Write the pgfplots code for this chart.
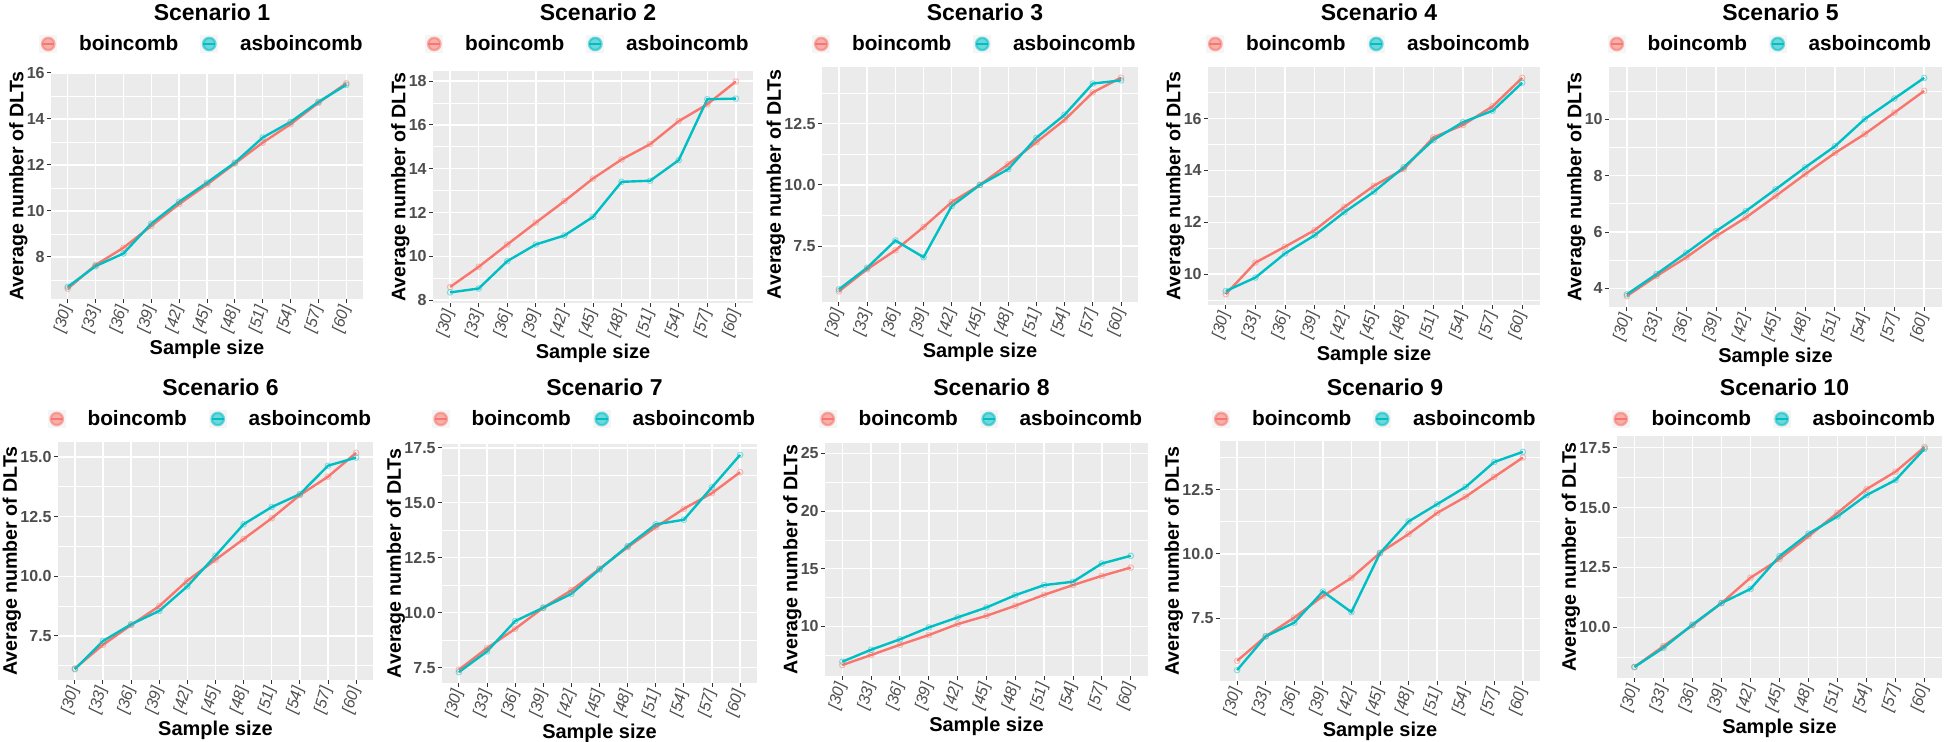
\documentclass[border=0pt]{standalone}
\usepackage{fontspec}
\setmainfont{Liberation Sans}
\usepackage{pgfplots}
\usepackage{pgfplotstable}
\pgfplotsset{compat=1.18}

\definecolor{redc}{HTML}{F8766D}
\definecolor{cyanc}{HTML}{00BFC4}
\definecolor{panelbg}{HTML}{EBEBEB}
\definecolor{tickgray}{HTML}{4D4D4D}
\definecolor{tickline}{HTML}{333333}

% b = boincomb, a = asboincomb, one pair of columns per scenario
\pgfplotstableread{
x b1 a1 b2 a2 b3 a3 b4 a4 b5 a5 b6 a6 b7 a7 b8 a8 b9 a9 b10 a10
1 6.62 6.70 8.60 8.35 5.66 5.74 9.23 9.35 3.73 3.79 6.14 6.11 7.41 7.30 6.65 6.94 5.85 5.49 8.34 8.34
2 7.65 7.60 9.52 8.53 6.56 6.62 10.45 9.87 4.44 4.51 7.13 7.29 8.39 8.24 7.52 7.98 6.80 6.80 9.21 9.14
3 8.40 8.15 10.54 9.78 7.33 7.73 11.06 10.80 5.10 5.26 7.96 7.99 9.27 9.62 8.41 8.88 7.53 7.33 10.08 10.11
4 9.35 9.45 11.54 10.54 8.28 7.05 11.70 11.50 5.85 6.03 8.75 8.55 10.23 10.23 9.25 9.91 8.36 8.54 11.01 11.01
5 10.30 10.40 12.52 10.95 9.30 9.14 12.59 12.39 6.51 6.74 9.82 9.58 11.02 10.86 10.20 10.78 9.07 7.74 12.07 11.60
6 11.15 11.23 13.55 11.80 10.00 10.00 13.41 13.18 7.27 7.51 10.69 10.86 12.00 11.97 10.92 11.64 10.04 10.03 12.85 12.97
7 12.06 12.10 14.42 13.40 10.84 10.64 14.05 14.12 8.05 8.29 11.56 12.18 12.98 13.03 11.79 12.71 10.77 11.26 13.80 13.91
8 12.97 13.19 15.12 13.45 11.74 11.92 15.27 15.17 8.80 9.04 12.43 12.90 13.89 14.02 12.74 13.58 11.59 11.93 14.78 14.63
9 13.77 13.87 16.17 14.39 12.65 12.86 15.75 15.86 9.47 10.00 13.40 13.44 14.73 14.23 13.58 13.87 12.22 12.60 15.77 15.52
10 14.70 14.74 16.94 17.17 13.77 14.13 16.47 16.30 10.23 10.73 14.17 14.63 15.44 15.71 14.38 15.45 12.99 13.57 16.50 16.15
11 15.55 15.48 17.98 17.20 14.37 14.26 17.57 17.38 11.00 11.46 15.17 14.97 16.39 17.18 15.10 16.12 13.74 13.96 17.53 17.46
}\data

\newcommand{\legfont}{\fontsize{10.4}{11}\selectfont\bfseries}

\pgfplotsset{
  ggpanel/.style={
    scale only axis,
    anchor=south west,
    axis background/.style={fill=panelbg},
    axis line style={draw=none},
    tick pos=left,
    tick align=outside,
    major tick length=2pt,
    minor tick length=0pt,
    tick style={tickline, line width=0.5pt},
    xmin=0.4, xmax=11.6,
    xtick={1,...,11},
    xticklabels={{[30]},{[33]},{[36]},{[39]},{[42]},{[45]},{[48]},{[51]},{[54]},{[57]},{[60]}},
    xticklabel style={rotate=75, anchor=east, font=\fontsize{8}{8}\selectfont\itshape, text=tickgray, inner sep=1.5pt},
    yticklabel style={font=\fontsize{8}{8}\selectfont\bfseries, text=tickgray, inner sep=1pt},
    /pgf/number format/assume math mode=true,
    grid=both,
    major grid style={white, line width=0.7pt},
    minor grid style={white, line width=0.35pt},
    minor x tick num=0,
    minor y tick num=1,
    enlarge y limits=0.05,
    xlabel={Sample size},
    ylabel={Average number of DLTs},
    xlabel style={font=\fontsize{10}{10}\selectfont\bfseries, inner sep=1pt},
    ylabel style={font=\fontsize{9.8}{10}\selectfont\bfseries, inner sep=1pt, yshift=-2.5pt},
    title style={font=\fontsize{11.5}{12}\selectfont\bfseries, at={(0.5,1)}, anchor=center, xshift=2.5pt},
    legend columns=2,
    legend style={draw=none, fill=none, anchor=center, at={(0.5,1)}, xshift=-2pt,
      font=\legfont, nodes={font=\legfont},
      /tikz/every odd column/.append style={column sep=9pt},
      /tikz/every even column/.append style={column sep=9pt}},
    legend image code/.code={
      \fill[black!4] (-0.5pt,-3.8pt) rectangle (7.1pt,3.8pt);
      \fill[##1, opacity=0.55] (3.3pt,0pt) circle (3.1pt);
      \draw[##1, line width=1.2pt] (0.3pt,0pt) -- (6.3pt,0pt);
    },
  },
  dec/.style={yticklabel style={/pgf/number format/.cd, fixed, fixed zerofill, precision=1}},
  bline/.style={redc, line width=1.2pt, mark=o, mark size=1.4pt,
    mark options={line width=0.5pt, draw opacity=0.45}},
  aline/.style={cyanc, line width=1.2pt, mark=o, mark size=1.4pt,
    mark options={line width=0.5pt, draw opacity=0.45}},
}

% #1 left, #2 right, #3 top, #4 bottom of the panel (px), #5 scenario,
% #6 title centre (px from top), #7 extra axis options
\newcommand{\panel}[7]{%
  \pgfmathsetmacro\pw{(#2-#1)*0.5}%
  \pgfmathsetmacro\ph{(#4-#3)*0.5}%
  \pgfmathsetmacro\ty{(#3-#6)*0.5-6}%
  \pgfmathsetmacro\ly{(#3-#6-32)*0.5}%
  \begin{axis}[ggpanel, at={({#1*0.5pt},{(742-#4)*0.5pt})},
    width=\pw pt, height=\ph pt,
    title={Scenario #5}, title style={yshift=\ty pt},
    legend style={yshift=\ly pt}, #7]
  \addplot[bline] table[x=x, y=b#5]{\data};
  \addlegendentry{boincomb}
  \addplot[aline] table[x=x, y=a#5]{\data};
  \addlegendentry{asboincomb}
  \end{axis}%
}

\begin{document}
\begin{tikzpicture}
\useasboundingbox (0,0) rectangle (972pt,371pt);
\panel{51}{363}{73}{299}{1}{12}{ytick={6,8,...,18}}
\panel{433}{753}{71}{303}{2}{12}{ytick={6,8,...,20}}
\panel{822}{1138}{67}{302}{3}{12}{ytick={5,7.5,...,15}, dec}
\panel{1208}{1540}{67}{305}{4}{12}{ytick={8,10,...,18}}
\panel{1609}{1942}{67}{307}{5}{12}{ytick={2,4,...,12}}
\panel{58}{373}{442}{680}{6}{387}{ytick={5,7.5,...,17.5}, dec}
\panel{442}{757}{444}{683}{7}{387}{ytick={5,7.5,...,20}, dec}
\panel{825}{1148}{443}{676}{8}{387}{ytick={5,10,...,30}, ymin=5.7, ymax=25.9, enlarge y limits=false}
\panel{1220}{1540}{441}{681}{9}{387}{ytick={5,7.5,...,15}, dec}
\panel{1617}{1942}{436}{678}{10}{387}{ytick={7.5,10,...,20}, dec}
\end{tikzpicture}
\end{document}
